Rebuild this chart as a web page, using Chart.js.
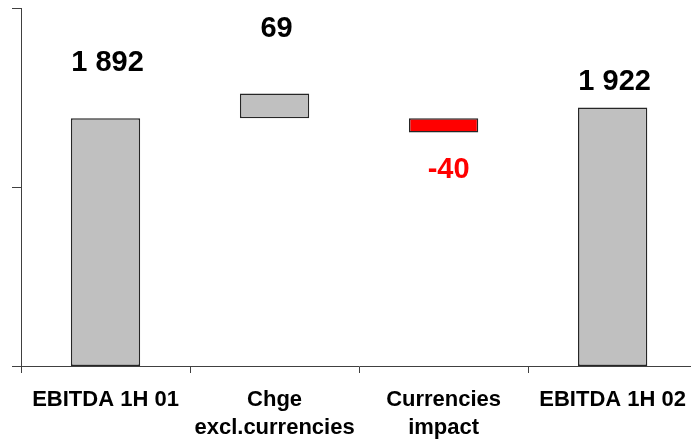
<!DOCTYPE html>
<html>
<head>
<meta charset="utf-8">
<script src="https://cdn.jsdelivr.net/npm/chart.js@4.4.1/dist/chart.umd.min.js"></script>
<style>
  html, body { margin: 0; padding: 0; background: #ffffff; overflow: hidden; }
  #wrap { width: 699px; height: 442px; }
</style>
</head>
<body>
<div id="wrap"><canvas id="chart"></canvas></div>
<script>
// EBITDA bridge, 1H 01 -> 1H 02
const categories = [
  'EBITDA 1H 01',
  ['Chge', 'excl.currencies'],
  ['Currencies', 'impact'],
  'EBITDA 1H 02'
];
const openingValue = 1892;
const changes = [69, -40];          // change excl. currencies, currencies impact
const closingValue = 1922;
const yTicks = [1200, 1700, 2200];

const axisMin = yTicks[0];
const axisMax = yTicks[yTicks.length - 1];

// floating ranges: totals rise from the axis floor, each change hangs off the opening value
const ranges = [
  [axisMin, openingValue],
  ...changes.map(c => c >= 0 ? [openingValue, openingValue + c] : [openingValue + c, openingValue]),
  [axisMin, closingValue]
];
const labelValues = [openingValue, ...changes, closingValue];

const isNegStep = (v, i) => i > 0 && i < labelValues.length - 1 && v < 0;
const barColors = labelValues.map((v, i) => isNegStep(v, i) ? '#ff0000' : '#c0c0c0');
const labelColors = labelValues.map((v, i) => isNegStep(v, i) ? '#ff0000' : '#000000');
// distance from the bar end to the label baseline (px)
const labelGap = [47, 57, 45, 18];

function fmt(v) {
  const s = Math.abs(v).toString().replace(/\B(?=(\d{3})+(?!\d))/g, ' ');
  return (v < 0 ? '-' : '') + s;
}

const valueLabels = {
  id: 'valueLabels',
  afterDatasetsDraw(chart) {
    const ctx = chart.ctx;
    const meta = chart.getDatasetMeta(0);
    ctx.save();
    ctx.font = 'bold 29px "Liberation Sans", Arial, sans-serif';
    ctx.textAlign = 'center';
    ctx.textBaseline = 'alphabetic';
    meta.data.forEach((bar, i) => {
      const v = labelValues[i];
      const top = Math.min(bar.y, bar.base);
      const bottom = Math.max(bar.y, bar.base);
      ctx.fillStyle = labelColors[i];
      if (v < 0) {
        ctx.fillText(fmt(v), bar.x + 5, bottom + labelGap[i]);
      } else {
        ctx.fillText(fmt(v), bar.x + 2, top - labelGap[i]);
      }
    });
    ctx.restore();
  }
};

new Chart(document.getElementById('chart'), {
  type: 'bar',
  data: {
    labels: categories,
    datasets: [{
      data: ranges,
      backgroundColor: barColors,
      borderColor: '#262626',
      borderWidth: 1.5,
      borderSkipped: false,
      barPercentage: 0.41,
      categoryPercentage: 1
    }]
  },
  options: {
    responsive: true,
    maintainAspectRatio: false,
    animation: false,
    devicePixelRatio: 1,
    layout: { padding: { top: 8, right: 0, left: 0, bottom: 0 } },
    plugins: {
      legend: { display: false },
      tooltip: { enabled: false }
    },
    scales: {
      x: {
        grid: {
          display: true,
          offset: true,
          drawOnChartArea: false,
          drawTicks: true,
          tickLength: 7,
          color: '#404040',
          tickColor: '#404040'
        },
        border: { display: true, color: '#404040', width: 1 },
        ticks: {
          color: '#000000',
          font: { family: '"Liberation Sans", Arial, sans-serif', size: 22, weight: 'bold', lineHeight: 1.27 },
          padding: 13,
          maxRotation: 0,
          autoSkip: false
        },
        afterFit(scale) { scale.height = 76; }
      },
      y: {
        min: axisMin,
        max: axisMax,
        afterBuildTicks(scale) { scale.ticks = yTicks.map(v => ({ value: v })); },
        grid: {
          display: true,
          drawOnChartArea: false,
          drawTicks: true,
          tickLength: 9,
          color: '#404040',
          tickColor: '#404040'
        },
        border: { display: true, color: '#404040', width: 1 },
        ticks: { display: false },
        afterFit(scale) { scale.width = 21; }
      }
    }
  },
  plugins: [valueLabels]
});
</script>
</body>
</html>
